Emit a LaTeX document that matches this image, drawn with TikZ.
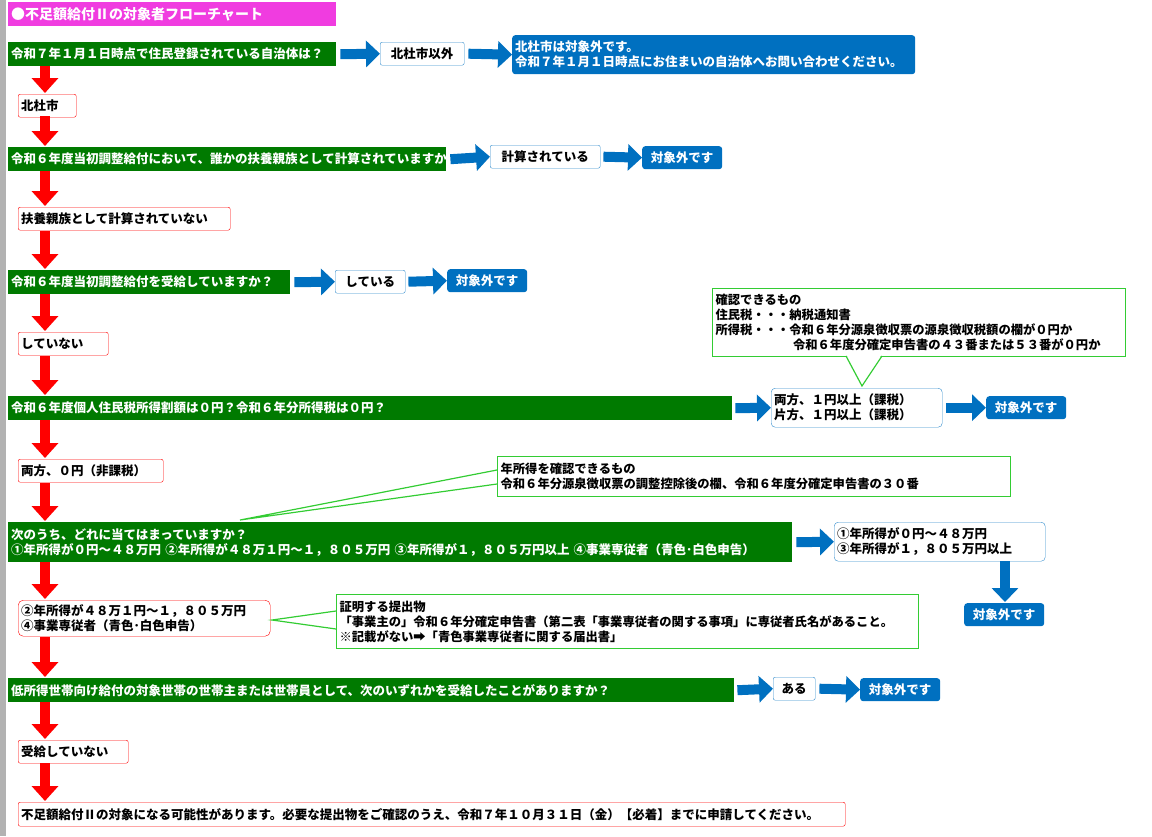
\documentclass[tikz,border=0pt]{standalone}
\usepackage{fontspec}
\setmainfont{Noto Sans CJK JP}
\usetikzlibrary{arrows.meta}
\definecolor{gbar}{HTML}{007A00}
\definecolor{bblue}{HTML}{0070C0}
\definecolor{mag}{HTML}{F03CE0}
\definecolor{callg}{HTML}{33CC33}
\begin{document}
\begin{tikzpicture}[x=1pt,y=-1pt,
 every node/.style={font=\fontsize{12.5}{15}\selectfont\bfseries, inner sep=3pt, anchor=north west, align=left},
 gq/.style={fill=gbar, text=white, minimum height=24pt},
 rb/.style={draw=red, fill=white, rounded corners=2pt, minimum height=23pt},
 wb/.style={draw=bblue!80, fill=white, rounded corners=2pt, minimum height=23pt},
 bb/.style={fill=bblue, text=white, rounded corners=3pt, minimum height=23pt, align=center, text width=74pt},
 cb/.style={draw=callg, line width=1.2pt, fill=white, font=\fontsize{12.3}{15}\selectfont\bfseries},
 ra/.style={draw=red, line width=10pt, -{Triangle[width=26pt,length=15pt]}},
 ba/.style={draw=bblue, line width=10pt, -{Triangle[width=26pt,length=14pt]}},
 cl/.style={draw=callg, line width=1.2pt}]
\useasboundingbox (0,0) rectangle (1152,836);
\fill[gray!60] (0,0) rectangle (6,836);
\node[fill=mag,text=white,minimum height=24pt,text width=322pt,font=\fontsize{14}{16}\selectfont\bfseries] (title) at (8,2) {●不足額給付Ⅱの対象者フローチャート};
% row 1
\node[gq,text width=322pt] (q1) at (8,42) {令和７年１月１日時点で住民登録されている自治体は？};
\node[wb,text width=78pt,align=center] (a1) at (380,42) {北杜市以外};
\node[fill=bblue,text=white,rounded corners=3pt,text width=397pt,minimum height=39pt] (r1) at (512,35) {北杜市は対象外です。\\令和７年１月１日時点にお住まいの自治体へお問い合わせください。};
\draw[ba] (q1.east)++(4,0) -- (a1.west);
\draw[ba] (a1.east)++(4,0) -- (r1.west);
\node[rb,text width=52pt] (n1) at (18,94) {北杜市};
\draw[ra] (45,66) -- (45,93);
% row 2
\node[gq,text width=432pt] (q2) at (8,147) {令和６年度当初調整給付において、誰かの扶養親族として計算されていますか？};
\draw[ra] (45,116) -- (45,146);
\node[wb,text width=104pt,align=center] (a2) at (490,145) {計算されている};
\node[bb] (r2) at (642,146) {対象外です};
\draw[ba] (q2.east)++(4,0) -- (a2.west);
\draw[ba] (a2.east)++(3,0) -- (r2.west);
\node[rb,text width=206pt] (n2) at (18,207) {扶養親族として計算されていない};
\draw[ra] (45,171) -- (45,206);
% row 3
\node[gq,text width=276pt] (q3) at (8,270) {令和６年度当初調整給付を受給していますか？};
\draw[ra] (45,231) -- (45,269);
\node[wb,text width=64pt,align=center] (a3) at (335,270) {している};
\node[bb] (r3) at (447,269) {対象外です};
\draw[ba] (q3.east)++(4,0) -- (a3.west);
\draw[ba] (a3.east)++(3,0) -- (r3.west);
\node[rb,text width=84pt] (n3) at (18,332) {していない};
\draw[ra] (45,294) -- (45,331);
% callout 1
\node[cb,text width=407pt,minimum height=68pt] (c1) at (712,288) {確認できるもの\\住民税・・・納税通知書\\所得税・・・令和６年分源泉徴収票の源泉徴収税額の欄が０円か\\\hspace*{6.3em}令和６年度分確定申告書の４３番または５３番が０円か};
\coordinate (p1) at (862,386);
\fill[white] (846,354) -- (p1) -- (882,354) -- cycle;
\draw[cl] (846,356) -- (p1) -- (882,356);
% row 4
\node[gq,text width=718pt] (q4) at (8,396) {令和６年度個人住民税所得割額は０円？令和６年分所得税は０円？};
\draw[ra] (45,356) -- (45,395);
\node[wb,text width=165pt,minimum height=39pt,rounded corners=4pt] (a4) at (771,388) {両方、１円以上（課税）\\片方、１円以上（課税）};
\node[bb] (r4) at (986,396) {対象外です};
\draw[ba] (q4.east)++(3,0) -- (a4.west);
\draw[ba] (a4.east)++(4,0) -- (r4.west);
\node[rb,text width=139pt] (n4) at (18,459) {両方、０円（非課税）};
\draw[ra] (45,420) -- (45,458);
% callout 2
\node[cb,text width=507pt,minimum height=40pt] (c2) at (497,456) {年所得を確認できるもの\\令和６年分源泉徴収票の調整控除後の欄、令和６年度分確定申告書の３０番};
\coordinate (p2) at (240,520);
\draw[cl] (497,470) -- (p2) -- (497,484);
% row 5
\node[gq,text width=778pt,minimum height=40pt] (q5) at (8,522) {次のうち、どれに当てはまっていますか？\\①年所得が０円～４８万円 ②年所得が４８万１円～１，８０５万円 ③年所得が１，８０５万円以上 ④事業専従者（青色･白色申告）};
\draw[ra] (45,483) -- (45,521);
\node[wb,text width=205pt,minimum height=39pt,rounded corners=4pt] (a5) at (834,522) {①年所得が０円～４８万円\\③年所得が１，８０５万円以上};
\draw[ba] (q5.east)++(4,0) -- (a5.west);
\node[bb] (r5) at (964,603) {対象外です};
\draw[ba] (1005,561) -- (1005,602);
\node[rb,text width=246pt,minimum height=36pt,rounded corners=5pt] (n5) at (18,600) {②年所得が４８万１円～１，８０５万円\\④事業専従者（青色･白色申告）};
\draw[ra] (45,562) -- (45,599);
% callout 3
\node[cb,text width=576pt,minimum height=54pt] (c3) at (336,594) {証明する提出物\\「事業主の」令和６年分確定申告書（第二表「事業専従者の関する事項」に専従者氏名があること。\\※記載がない➡「青色事業専従者に関する届出書」};
\coordinate (p3) at (272,620);
\draw[cl] (336,611) -- (p3) -- (336,629);
% row 6
\node[gq,text width=720pt] (q6) at (8,678) {低所得世帯向け給付の対象世帯の世帯主または世帯員として、次のいずれかを受給したことがありますか？};
\draw[ra] (45,637) -- (45,677);
\node[wb,text width=36pt,align=center] (a6) at (773,677) {ある};
\node[bb] (r6) at (860,678) {対象外です};
\draw[ba] (q6.east)++(3,0) -- (a6.west);
\draw[ba] (a6.east)++(4,0) -- (r6.west);
\node[rb,text width=104pt] (n6) at (18,740) {受給していない};
\draw[ra] (45,702) -- (45,739);
\node[rb,text width=821pt,minimum height=24pt] (n7) at (18,802) {不足額給付Ⅱの対象になる可能性があります。必要な提出物をご確認のうえ、令和７年１０月３１日（金）【必着】までに申請してください。};
\draw[ra] (45,763) -- (45,801);
\end{tikzpicture}
\end{document}
